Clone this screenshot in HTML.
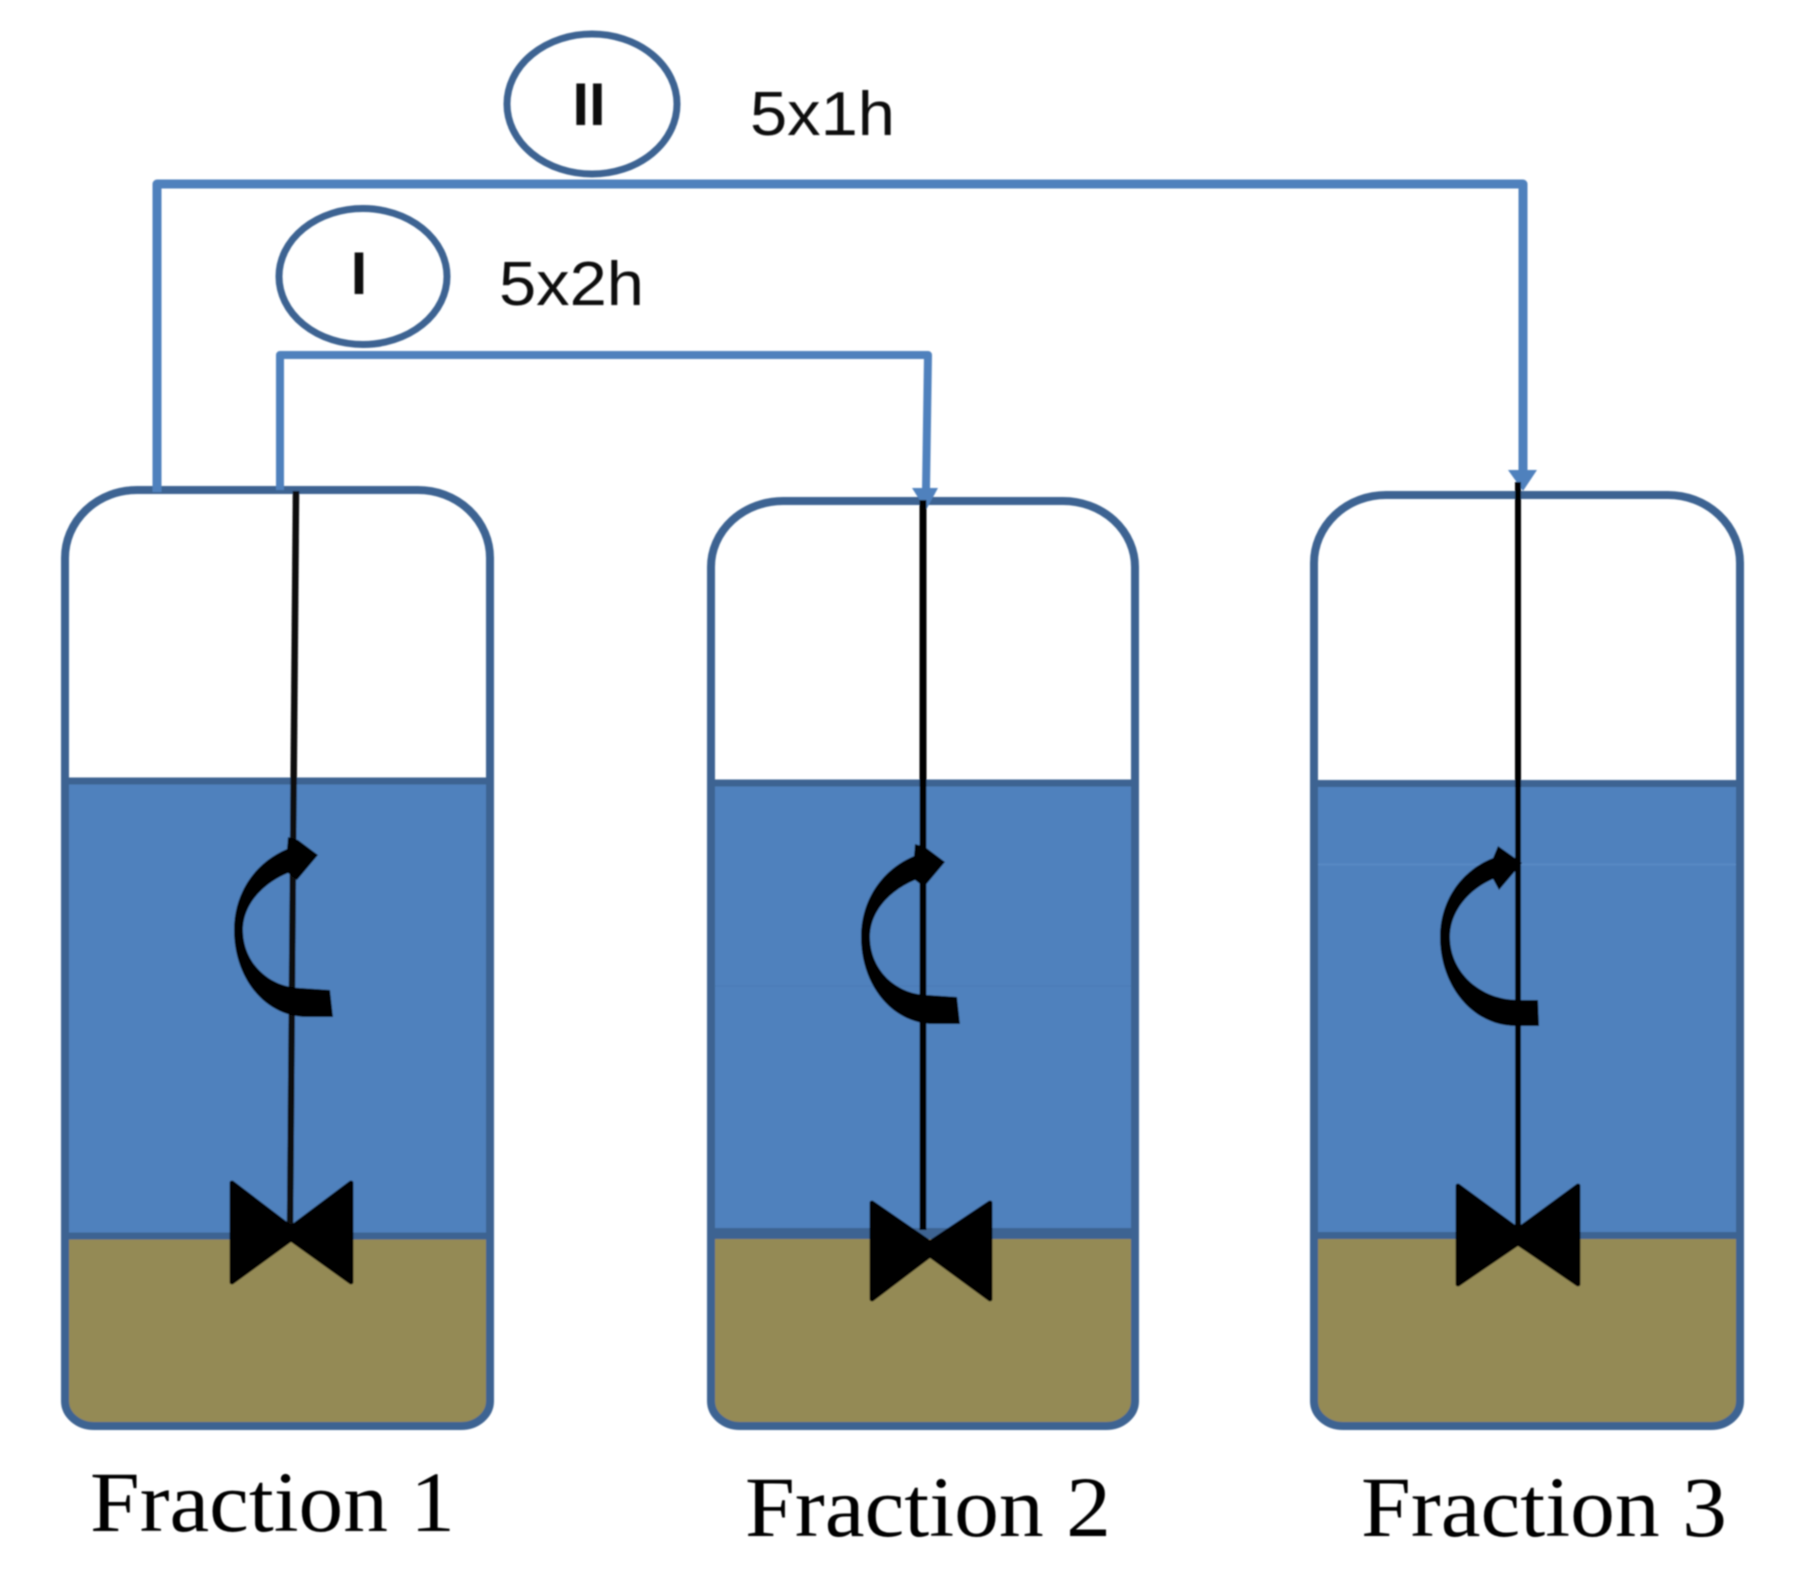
<!DOCTYPE html>
<html>
<head>
<meta charset="utf-8">
<style>
html,body{margin:0;padding:0;background:#fff;}
svg{display:block;}
</style>
</head>
<body>
<svg xmlns="http://www.w3.org/2000/svg" width="1796" height="1573" viewBox="0 0 1796 1573">
<defs><filter id="s" filterUnits="userSpaceOnUse" x="0" y="0" width="1796" height="1573"><feGaussianBlur stdDeviation="0.8"/></filter></defs>
<rect width="1796" height="1573" fill="#fff"/>
<g filter="url(#s)">

<!-- Vessel 1 -->
<rect x="65" y="781" width="425" height="456" fill="#4f81bd"/>
<path d="M65 1237H490V1401A29 25 0 0 1 461 1426H94A29 25 0 0 1 65 1401Z" fill="#948a54"/>
<path d="M65 781H490M65 1236H490" stroke="#3d6392" stroke-width="7" fill="none"/>
<path d="M137 490H418A72 68 0 0 1 490 558V1401A29 25 0 0 1 461 1426H94A29 25 0 0 1 65 1401V558A72 68 0 0 1 137 490Z" fill="none" stroke="#3d6392" stroke-width="8"/>

<!-- Vessel 2 -->
<rect x="711" y="783" width="424" height="451" fill="#4f81bd"/>
<path d="M711 1234H1135V1401A29 25 0 0 1 1106 1426H740A29 25 0 0 1 711 1401Z" fill="#948a54"/>
<path d="M711 986H1135" stroke="#4a7ab4" stroke-width="1" fill="none"/>
<path d="M711 783H1135" stroke="#3d6392" stroke-width="7" fill="none"/>
<path d="M711 1233.500H1135" stroke="#3d6392" stroke-width="11" fill="none"/>
<path d="M783 501H1063A72 66 0 0 1 1135 567V1401A29 25 0 0 1 1106 1426H740A29 25 0 0 1 711 1401V567A72 66 0 0 1 783 501Z" fill="none" stroke="#3d6392" stroke-width="8"/>

<!-- Vessel 3 -->
<rect x="1314" y="783" width="426" height="453" fill="#4f81bd"/>
<path d="M1314 1236H1740V1401A29 25 0 0 1 1711 1426H1343A29 25 0 0 1 1314 1401Z" fill="#948a54"/>
<path d="M1310 864.500H1744" stroke="#5b8cc6" stroke-width="1.500" fill="none"/>
<path d="M1314 783.500H1740M1314 1235.500H1740" stroke="#3d6392" stroke-width="7" fill="none"/>
<path d="M1386 495H1668A72 68 0 0 1 1740 563V1401A29 25 0 0 1 1711 1426H1343A29 25 0 0 1 1314 1401V563A72 68 0 0 1 1386 495Z" fill="none" stroke="#3d6392" stroke-width="8"/>

<!-- Connectors -->
<path d="M157 492V184H1523V470" fill="none" stroke="#4f81bd" stroke-width="9" stroke-linejoin="round"/>
<path d="M1508 470H1537L1523 491Z" fill="#4f81bd"/>
<path d="M280 490V355H928L926 490" fill="none" stroke="#4f81bd" stroke-width="8" stroke-linejoin="round"/>
<path d="M912 488H938L926 510Z" fill="#4f81bd"/>

<!-- Shafts -->
<path d="M296 491L290 1230" stroke="#0a0a0a" stroke-width="6.500" fill="none"/>
<path d="M923 500V1230" stroke="#000" stroke-width="7" fill="none"/>
<path d="M1518 482V1230" stroke="#000" stroke-width="6" fill="none"/>

<!-- Impellers -->
<path d="M232 1183L291 1228L351 1183V1282L291 1239L232 1282Z" fill="#000" stroke="#000" stroke-width="5" stroke-linejoin="round"/>
<path d="M872 1203L930 1243L990 1203V1299L930 1255L872 1299Z" fill="#000" stroke="#000" stroke-width="5" stroke-linejoin="round"/>
<path d="M1458 1186L1518 1230L1578 1186V1284L1518 1243L1458 1284Z" fill="#000" stroke="#000" stroke-width="5" stroke-linejoin="round"/>

<!-- Rotation arrows -->
<path d="M288 837L298 840L318 855L297 880L288 873C262 884 243 905 243 930C243 962 268 987 300 988L330 990L333 1017L307 1017C265 1017 234 978 234 930C234 892 256 862 287 849Z" fill="#000"/>
<path transform="translate(627 7)" d="M288 837L298 840L318 855L297 880L288 873C262 884 243 905 243 930C243 962 268 987 300 988L330 990L333 1017L307 1017C265 1017 234 978 234 930C234 892 256 862 287 849Z" fill="#000"/>
<path d="M1498 846L1522 863L1499 890L1493 879C1468 890 1450 912 1450 937C1450 972 1480 1000 1519 1000L1538 1000L1539 1026L1516 1026C1472 1026 1440 985 1440 937C1440 900 1462 870 1493 858Z" fill="#000"/>

<!-- Ellipses -->
<ellipse cx="592" cy="104" rx="85" ry="70" fill="none" stroke="#3d6392" stroke-width="7"/>
<ellipse cx="363" cy="276.500" rx="84" ry="68" fill="none" stroke="#3d6392" stroke-width="7"/>

<!-- Labels -->
<g font-family="'Liberation Sans', sans-serif" fill="#111">
<text x="589" y="125" font-size="60" font-weight="700" text-anchor="middle">II</text>
<text x="359" y="294" font-size="60" font-weight="700" text-anchor="middle">I</text>
<text x="750" y="135" font-size="62" textLength="145" lengthAdjust="spacingAndGlyphs">5x1h</text>
<text x="499" y="305" font-size="62" textLength="145" lengthAdjust="spacingAndGlyphs">5x2h</text>
</g>
<g font-family="'Liberation Serif', serif" fill="#000" font-size="86">
<text x="90" y="1531" textLength="365" lengthAdjust="spacingAndGlyphs">Fraction 1</text>
<text x="745" y="1536" textLength="366" lengthAdjust="spacingAndGlyphs">Fraction 2</text>
<text x="1361" y="1536" textLength="366" lengthAdjust="spacingAndGlyphs">Fraction 3</text>
</g>
</g>
</svg>
</body>
</html>
